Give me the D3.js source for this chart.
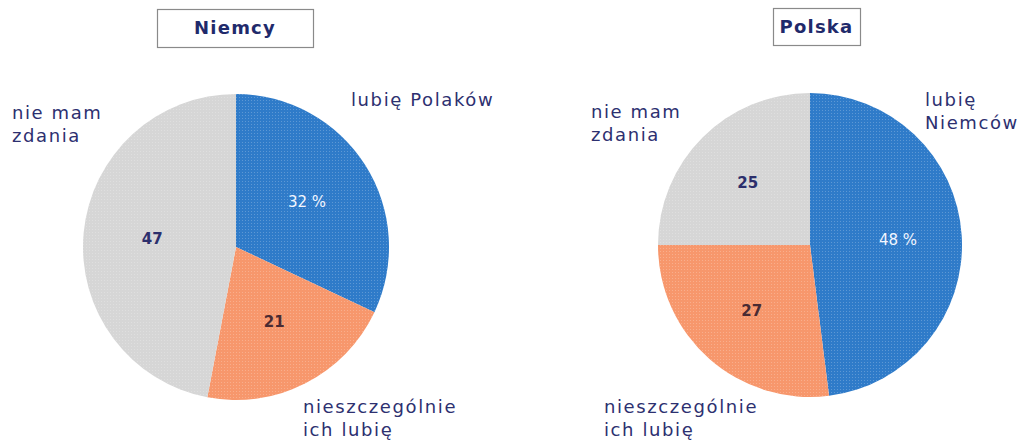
<html>
<head>
<meta charset="utf-8">
<title>Niemcy / Polska</title>
<style>
  body { margin: 0; background: #fff; }
  text { font-family: "DejaVu Sans", sans-serif; }
</style>
</head>
<body>
<script src="https://cdn.jsdelivr.net/npm/d3@7"></script>
<script>
    var width = 1030, height = 445;

    // dane
    var categories = ["lubię", "nieszczególnie ich lubię", "nie mam zdania"];
    var countries = ["Niemcy", "Polska"];
    var valuesNiemcy = [32, 21, 47];
    var valuesPolska = [48, 27, 25];
    var valueLabelsNiemcy = ["32 %", "21", "47"];
    var valueLabelsPolska = ["48 %", "27", "25"];
    var outerLabelsNiemcy = [["lubię Polaków"], ["nieszczególnie", "ich lubię"], ["nie mam", "zdania"]];
    var outerLabelsPolska = [["lubię", "Niemców"], ["nieszczególnie", "ich lubię"], ["nie mam", "zdania"]];

    var color = d3.scaleOrdinal()
            .domain(categories)
            .range(["#2f7bc9", "#f7976c", "#d6d6d6"]);
    var numColor = ["#f2f6ff", "#4a2b33", "#2c2f6c"];

    var svg = d3.select("body")
            .append("svg")
            .attr("width", width)
            .attr("height", height);

    // drobny raster jak w oryginale
    var defs = svg.append("defs");
    var pat = defs.append("pattern")
            .attr("id", "dots")
            .attr("width", 3).attr("height", 3)
            .attr("patternUnits", "userSpaceOnUse");
    pat.append("rect").attr("width", 1).attr("height", 1).attr("fill", "#fff").attr("opacity", 0.22);

    var charts = [
        {name: countries[0], values: valuesNiemcy, nums: valueLabelsNiemcy, labels: outerLabelsNiemcy,
         cx: 236, cy: 247, r: 153, box: [157, 9, 156, 38], numR: 0.55,
         lab: [[351, 106], [303, 413], [12, 119]]},
        {name: countries[1], values: valuesPolska, nums: valueLabelsPolska, labels: outerLabelsPolska,
         cx: 810, cy: 245, r: 152, box: [773, 8, 87, 37], numR: 0.58,
         lab: [[925, 106], [604, 413], [591, 118]]}
    ];

    var pie = d3.pie().sort(null);
    var lineH = 23;

    charts.forEach(function (c) {
        var arc = d3.arc().innerRadius(0).outerRadius(c.r);
        var labelArc = d3.arc().innerRadius(c.r * c.numR).outerRadius(c.r * c.numR);
        var arcs = pie(c.values);

        var g = svg.append("g")
                .attr("transform", "translate(" + c.cx + "," + c.cy + ")");

        g.selectAll(".slice")
                .data(arcs)
                .enter()
                .append("path")
                .attr("class", "slice")
                .attr("d", arc)
                .attr("fill", function (d, i) { return color(categories[i]); });

        g.selectAll(".dots")
                .data(arcs)
                .enter()
                .append("path")
                .attr("d", arc)
                .attr("fill", "url(#dots)");

        g.selectAll(".num")
                .data(arcs)
                .enter()
                .append("text")
                .attr("transform", function (d) { return "translate(" + labelArc.centroid(d) + ")"; })
                .attr("text-anchor", "middle")
                .attr("dy", "0.35em")
                .attr("font-size", 15)
                .attr("font-weight", function (d, i) { return i == 0 ? "normal" : "bold"; })
                .attr("fill", function (d, i) { return numColor[i]; })
                .text(function (d, i) { return c.nums[i]; });

        // tytuł w ramce
        svg.append("rect")
                .attr("x", c.box[0] + 0.5).attr("y", c.box[1] + 0.5)
                .attr("width", c.box[2]).attr("height", c.box[3])
                .attr("fill", "#fff")
                .attr("stroke", "#8a8a8a")
                .attr("stroke-width", 1.2);
        svg.append("text")
                .attr("x", c.box[0] + c.box[2] / 2)
                .attr("y", c.box[1] + c.box[3] / 2)
                .attr("dy", "0.35em")
                .attr("text-anchor", "middle")
                .attr("font-size", 18)
                .attr("letter-spacing", 1.2)
                .attr("font-weight", "bold")
                .attr("fill", "#1f2a6b")
                .text(c.name);

        // opisy kategorii
        c.labels.forEach(function (lines, i) {
            var t = svg.append("text")
                    .attr("x", c.lab[i][0])
                    .attr("y", c.lab[i][1])
                    .attr("font-size", 18)
                    .attr("letter-spacing", 1.6)
                    .attr("fill", "#2d3070");
            lines.forEach(function (s, j) {
                t.append("tspan")
                        .attr("x", c.lab[i][0])
                        .attr("y", c.lab[i][1] + j * lineH)
                        .text(s);
            });
        });
    });
</script>
</body>
</html>
